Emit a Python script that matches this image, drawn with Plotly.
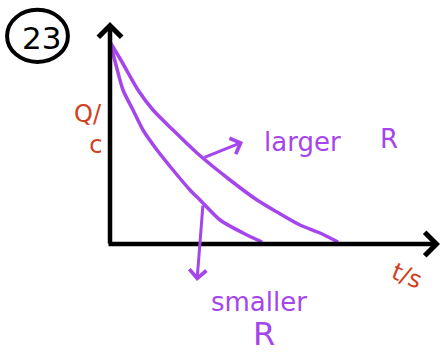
import plotly.graph_objects as go

# Charge on a discharging capacitor, Q against t (arbitrary units)
t_small_R = [0.0, 0.6, 1.3, 2.3, 3.3, 4.7, 6.3, 8.0, 9.0, 11.0, 13.3, 15.2]
q_small_R = [20.2, 17.9, 15.4, 13.4, 11.4, 9.4, 7.4, 5.4, 4.4, 2.4, 1.1, 0.2]

t_large_R = [0.0, 1.2, 2.8, 4.3, 6.3, 8.7, 12.0, 14.7, 16.7, 19.0, 21.0, 22.8]
q_large_R = [20.2, 18.2, 15.4, 13.4, 11.4, 9.1, 6.4, 4.4, 3.2, 1.9, 1.1, 0.2]

PURPLE = "#a545ec"
RED = "#d2401e"
FONT = "DejaVu Sans"

fig = go.Figure()
for t, q in ((t_small_R, q_small_R), (t_large_R, q_large_R)):
    fig.add_trace(go.Scatter(
        x=t, y=q, mode="lines",
        line=dict(color=PURPLE, width=3.5, shape="spline", smoothing=0.7),
        hoverinfo="skip", showlegend=False,
    ))

annotations = [
    # axes drawn as arrows
    dict(x=0, y=22.2, ax=0, ay=-0.1, xref="x", yref="y", axref="x", ayref="y",
         text="", showarrow=True, arrowhead=4, arrowsize=1.0, arrowwidth=4.5,
         arrowcolor="black", standoff=0),
    dict(x=33.0, y=0, ax=-0.3, ay=0, xref="x", yref="y", axref="x", ayref="y",
         text="", showarrow=True, arrowhead=4, arrowsize=1.0, arrowwidth=4.5,
         arrowcolor="black", standoff=0),
    # pointer arrows to each curve's label
    dict(x=13.3, y=10.2, ax=9.3, ay=8.6, xref="x", yref="y", axref="x", ayref="y",
         text="", showarrow=True, arrowhead=4, arrowsize=1.1, arrowwidth=3,
         arrowcolor=PURPLE, standoff=0),
    dict(x=8.7, y=-3.7, ax=9.3, ay=4.0, xref="x", yref="y", axref="x", ayref="y",
         text="", showarrow=True, arrowhead=4, arrowsize=1.1, arrowwidth=3,
         arrowcolor=PURPLE, standoff=0),
    # labels
    dict(x=19.2, y=10.2, xref="x", yref="y", text="larger", showarrow=False,
         font=dict(family=FONT, size=26, color=PURPLE)),
    dict(x=27.9, y=10.5, xref="x", yref="y", text="R", showarrow=False,
         font=dict(family=FONT, size=26, color=PURPLE)),
    dict(x=14.9, y=-7.6, xref="x", yref="y",
         text="smaller<br><span style='font-size:32px'>&nbsp;R</span>",
         showarrow=False, align="center",
         font=dict(family=FONT, size=26, color=PURPLE)),
    dict(x=-3.8, y=11.5, xref="x", yref="y", text="Q/<br>&nbsp;&nbsp;c",
         align="left", xanchor="left", showarrow=False,
         font=dict(family=FONT, size=24, color=RED)),
    dict(x=29.7, y=-3.2, xref="x", yref="y", text="t/s", textangle=22,
         showarrow=False, font=dict(family=FONT, size=24, color=RED)),
    # question number
    dict(x=0.093, y=0.893, xref="paper", yref="paper", text="23",
         xanchor="center", yanchor="middle", showarrow=False,
         font=dict(family=FONT, size=31, color="black")),
]

fig.update_layout(
    width=441, height=352,
    margin=dict(l=0, r=0, t=0, b=0),
    paper_bgcolor="white", plot_bgcolor="white",
    xaxis=dict(range=[-11.0, 33.1], visible=False, fixedrange=True),
    yaxis=dict(range=[-10.8, 24.4], visible=False, fixedrange=True),
    annotations=annotations,
    shapes=[dict(type="circle", xref="paper", yref="paper",
                 x0=0.016, x1=0.154, y0=0.824, y1=0.972,
                 line=dict(color="black", width=4))],
    showlegend=False,
)

fig.write_html("out.html")
